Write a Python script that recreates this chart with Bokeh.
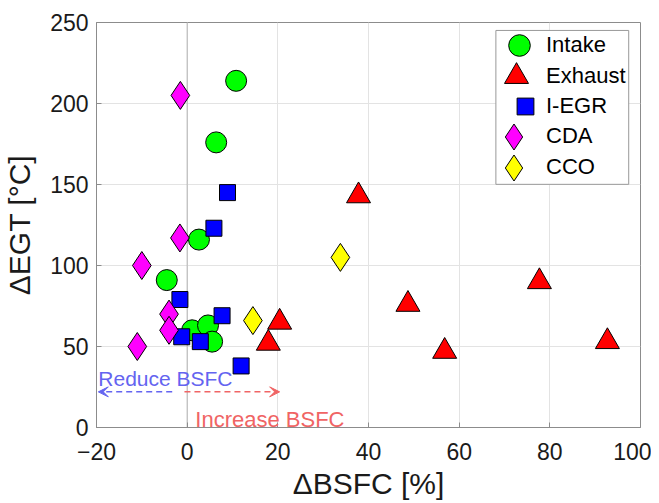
from bokeh.plotting import figure
from bokeh.models import (Legend, LegendItem, Span, Arrow, VeeHead,
                          Label, Range1d, FixedTicker, BoxAnnotation)
from bokeh.embed import file_html
from bokeh.resources import INLINE

# ---- data ----
intake_x = [10.8, 6.4, 2.6, -4.5, 1.1, 4.6, 5.5]
intake_y = [214, 176, 116, 91, 60, 63, 53]
exhaust_x = [37.8, 48.7, 56.8, 77.7, 92.7, 20.4, 17.9]
exhaust_y = [143, 76, 47, 90, 53, 65, 52]
iegr_x = [8.9, 5.9, 7.7, 11.9, -1.6, -1.2, 2.9]
iegr_y = [145, 123, 69, 38, 79, 56, 53]
cda_x = [-1.5, -1.6, -10.0, -4.0, -4.0, -11.0]
cda_y = [205, 117, 100, 70, 60, 50]
cco_x = [14.5, 33.8]
cco_y = [66, 105]

series_names = ["Intake", "Exhaust", "I-EGR", "CDA", "CCO"]
x_ticks = [-20, 0, 20, 40, 60, 80, 100]
y_ticks = [0, 50, 100, 150, 200, 250]

FONT = "Liberation Sans"
AX = "#8c8c8c"

p = figure(width=651, height=502, x_range=Range1d(-20, 100), y_range=Range1d(0, 250),
           output_backend="svg", toolbar_location=None,
           min_border_left=94, min_border_right=11, min_border_top=22, min_border_bottom=72)
p.background_fill_color = "white"
p.border_fill_color = "white"
p.outline_line_color = AX
p.outline_line_width = 1

for ax in (p.xaxis[0], p.yaxis[0]):
    ax.major_label_text_font = FONT
    ax.major_label_text_font_size = "23px"
    ax.major_label_text_color = "#1a1a1a"
    ax.axis_label_text_font = FONT
    ax.axis_label_text_font_size = "30px"
    ax.axis_label_text_font_style = "normal"
    ax.axis_label_text_color = "#1a1a1a"
    ax.axis_line_color = AX
    ax.major_tick_line_color = AX
    ax.major_tick_in = 5
    ax.major_tick_out = 0
    ax.minor_tick_line_color = None

p.xaxis[0].ticker = FixedTicker(ticks=x_ticks)
p.yaxis[0].ticker = FixedTicker(ticks=y_ticks)
p.xaxis[0].axis_label = "\u0394BSFC [%]"
p.yaxis[0].axis_label = "\u0394EGT [\u00b0C]"
p.xaxis[0].major_label_standoff = 15
p.yaxis[0].major_label_standoff = 8
p.xaxis[0].axis_label_standoff = 4
p.yaxis[0].axis_label_standoff = 11

p.xgrid.ticker = FixedTicker(ticks=x_ticks)
p.ygrid.ticker = FixedTicker(ticks=y_ticks)
p.xgrid.grid_line_color = "#e3e3e3"
p.ygrid.grid_line_color = "#e3e3e3"

p.add_layout(Span(location=0, dimension="height", line_color="#b4b4b4",
                  line_width=1, level="underlay"))

sizes = [21, 24, 16, 28, 28]
markers = ["circle", "triangle", "square", "diamond", "diamond"]
colors = ["#00ff00", "#ff0000", "#0000ff", "#ff00ff", "#ffff00"]
xs = [intake_x, exhaust_x, iegr_x, cda_x, cco_x]
ys = [intake_y, exhaust_y, iegr_y, cda_y, cco_y]

renderers = []
for x, y, m, s, c in zip(xs, ys, markers, sizes, colors):
    renderers.append(p.scatter(x, y, marker=m, size=s, fill_color=c,
                               line_color="black", line_width=1))

BLUE = "#6464f0"
RED = "#f06464"
p.add_layout(Arrow(end=VeeHead(size=10, fill_color=BLUE, line_color=BLUE),
                   x_start=-3.3, y_start=22, x_end=-19.6, y_end=22,
                   line_color=BLUE, line_dash="6 4", line_width=1.5))
p.add_layout(Arrow(end=VeeHead(size=10, fill_color=RED, line_color=RED),
                   x_start=-0.6, y_start=22, x_end=20.4, y_end=22,
                   line_color=RED, line_dash="6 4", line_width=1.5))
p.add_layout(Label(x=-19.6, y=30, text="Reduce BSFC", text_font=FONT,
                   text_font_size="21px", text_color=BLUE, text_baseline="alphabetic"))
p.add_layout(Label(x=1.8, y=5, text="Increase BSFC", text_font=FONT,
                   text_font_size="22px", text_color=RED, text_baseline="alphabetic"))

# ---- legend: framed box, one single-item legend per series ----
p.add_layout(BoxAnnotation(left=68.1, right=97.4, bottom=150.1, top=245.1,
                           fill_color="white", fill_alpha=1.0,
                           line_color="#999999", line_width=1, line_alpha=1.0))
FRAME_LEFT, FRAME_BOTTOM = 94, 430
LABEL_X = 544
row_centers = [48, 79, 109, 139, 170]
leg_sizes = [21.5, 24, 17, 26, 26]
for name, r, rc, ls in zip(series_names, renderers, row_centers, leg_sizes):
    g = int(round(ls / 0.4))
    lg = Legend(items=[LegendItem(label=name, renderers=[r])],
                location=(LABEL_X - g - FRAME_LEFT, FRAME_BOTTOM - rc - g / 2),
                glyph_width=g, glyph_height=g, padding=0, spacing=0, margin=0,
                label_standoff=0, label_text_font=FONT, label_text_font_size="22px",
                label_text_color="black", label_text_baseline="middle",
                border_line_color=None, background_fill_alpha=0)
    p.add_layout(lg)

open("out.html", "w").write(file_html(p, INLINE))
